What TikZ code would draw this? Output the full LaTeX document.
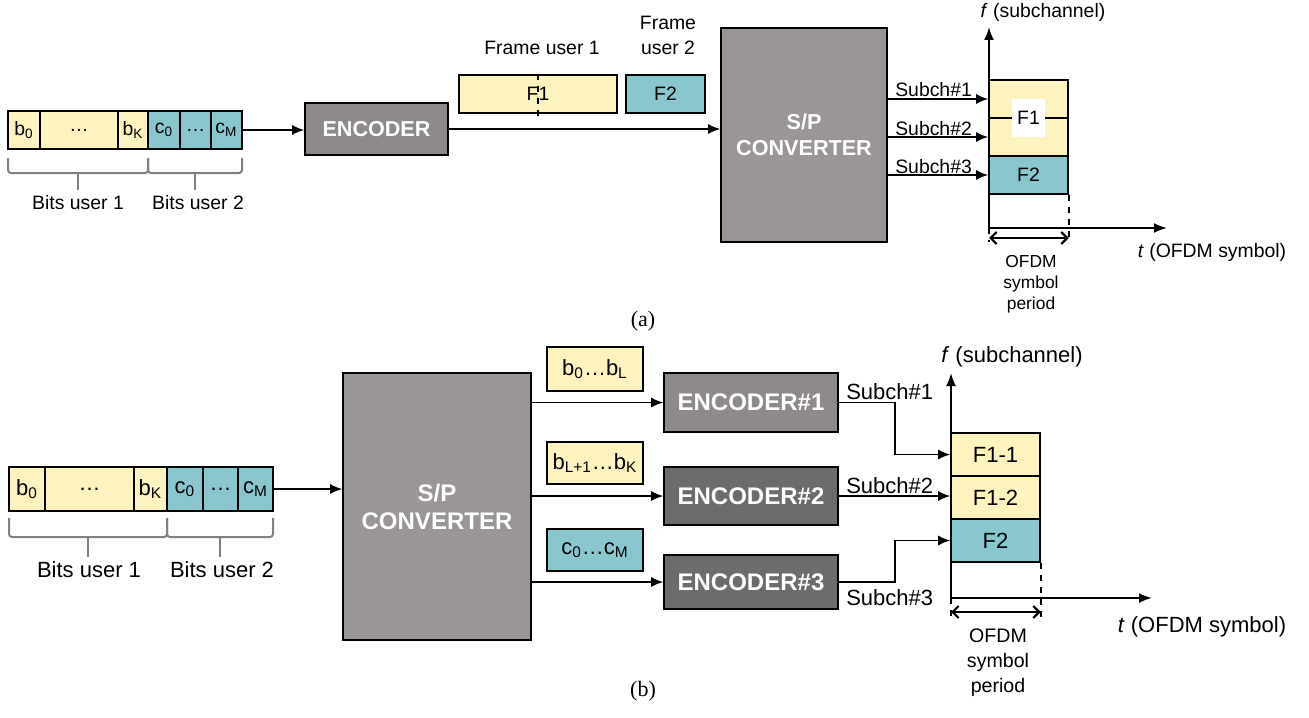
\documentclass[tikz,border=0pt]{standalone}
\usepackage{fontspec}
\setmainfont{Liberation Sans}
\newfontfamily\capfont{Liberation Serif}
\usetikzlibrary{arrows.meta, positioning}
\definecolor{BitYellow}{HTML}{FCF3BE}
\definecolor{BitTeal}{HTML}{89C6CE}
\definecolor{BoxGray}{HTML}{9A9696}
\definecolor{EncGray}{HTML}{8E8A8A}
\definecolor{EncDark}{HTML}{6E6B6B}
\definecolor{BraceGray}{HTML}{808080}

\begin{document}
\begin{tikzpicture}[x=0.5pt, y=-0.5pt,
			every node/.style={align=center},
			txta/.style={font=\fontsize{9.7}{12.5}\selectfont},
			txtb/.style={font=\fontsize{11}{13.5}\selectfont},
			bolda/.style={font=\fontsize{10.8}{13}\selectfont\bfseries},
			boldb/.style={font=\fontsize{12}{14}\selectfont\bfseries},
			ycell/.style={draw, fill=BitYellow, inner sep=0pt, line width=0.8pt},
			tcell/.style={draw, fill=BitTeal, inner sep=0pt, line width=0.8pt},
			blk/.style={draw, fill=BoxGray, text=white, inner sep=0pt, line width=0.8pt},
			conn/.style={line width=0.8pt, -{Latex[length=6pt,width=5pt]}},
			axis/.style={line width=1pt, -{Latex[length=6.5pt,width=5pt]}},
			period/.style={line width=1.1pt, {Straight Barb[length=3pt,width=6pt]}-{Straight Barb[length=3pt,width=6pt]}},
			guide/.style={dashed, line width=0.8pt},
			brace/.style={draw=BraceGray, line width=1pt, rounded corners=1.5pt}
		]
			\useasboundingbox (0,0) rectangle (1309,717);
			% (a) single encoder
			\node at (24,130) [ycell, txta, minimum width=16pt, minimum height=19pt] (ab0) {b\textsubscript{0}};
			\node at (79,130) [ycell, txta, minimum width=39pt, minimum height=19pt] (adots) {\dots};
			\node at (133,130) [ycell, txta, minimum width=15pt, minimum height=19pt] (abk) {b\textsubscript{K}};
			\node at (164,130) [tcell, txta, minimum width=16pt, minimum height=19pt] (ac0) {c\textsubscript{0}};
			\node at (195.5,130) [tcell, txta, minimum width=15.5pt, minimum height=19pt] (acdots) {\dots};
			\node at (226.5,130) [tcell, txta, minimum width=15.5pt, minimum height=19pt] (acm) {c\textsubscript{M}};
			\draw[brace] (8,158) -- (8,173) -- (148,173) -- (148,158);
			\draw[brace] (148,158) -- (148,173) -- (242,173) -- (242,158);
			\draw[brace] (78,173) -- (78,190);
			\draw[brace] (195,173) -- (195,190);
			\node at (78,203) [txta] (bua1) {Bits user 1};
			\node at (198,203) [txta] (bua2) {Bits user 2};
			\node at (376.5,129) [blk, fill=EncGray, bolda, minimum width=71.5pt, minimum height=26pt] (enc) {ENCODER};
			\node at (804,135) [blk, bolda, minimum width=83pt, minimum height=107pt] (spa) {S/P\\CONVERTER};
			\node at (538,94) [ycell, txta, minimum width=79pt, minimum height=19pt] (fr1) {F1};
			\node at (665.5,94) [tcell, txta, minimum width=39.5pt, minimum height=19pt] (fr2) {F2};
			\draw[guide] (fr1.north) -- ([yshift=-2pt]fr1.south);
			\node at (542,48) [txta] (fr1lbl) {Frame user 1};
			\node at (668,35.5) [txta] (fr2lbl) {Frame\\user 2};
			\path[conn] (acm.east) edge (acm.east -| enc.west);
			\path[conn] (enc.east) edge (enc.east -| spa.west);
			% (a) time-frequency grid
			\coordinate (oa) at (989,228);
			\coordinate (oay) at (989,27);
			\coordinate (oax) at (1167,228);
			\node at (1028.5,99) [ycell, minimum width=39.5pt, minimum height=19pt] (ca1) {};
			\node at (1028.5,137) [ycell, minimum width=39.5pt, minimum height=19pt] (ca2) {};
			\node at (1028.5,118) [fill=white, txta, inner sep=0pt, minimum width=16.5pt, minimum height=19pt] (caf1) {F1};
			\node at (1028.5,175) [tcell, txta, minimum width=39.5pt, minimum height=19pt] (ca3) {F2};
			\draw[axis] (oa) -- (oay);
			\draw[axis] (oa) -- (oax);
			\draw[guide] (ca3.south east) -- ++(0,48);
			\draw[guide] (oa) -- ++(0,14);
			\draw[period] ([yshift=-5pt]oa) -- ([yshift=-5pt]oa -| ca3.east);
			\node at (1031,284) [font=\fontsize{8.7}{10.5}\selectfont] (pera) {OFDM\\symbol\\period};
			\node at (1043,12) [txta] (flbla) {\textit{f} (subchannel)};
			\node at (1212,252) [txta] (tlbla) {\textit{t} (OFDM symbol)};
			\draw[conn] (spa.east |- ca1.west) -- (ca1.west) node[pos=0, anchor=base west, yshift=1pt, txta] {Subch\#1};
			\draw[conn] (spa.east |- ca2.west) -- (ca2.west) node[pos=0, anchor=base west, yshift=1pt, txta] {Subch\#2};
			\draw[conn] (spa.east |- ca3.west) -- (ca3.west) node[pos=0, anchor=base west, yshift=1pt, txta] {Subch\#3};
			\node at (643,321) [font=\capfont\fontsize{11}{13}\selectfont] (capa) {(a)};
			% (b) one encoder per subchannel
			\node at (27,489) [ycell, txtb, minimum width=18pt, minimum height=22pt] (bb0) {b\textsubscript{0}};
			\node at (89.5,489) [ycell, txtb, minimum width=44.5pt, minimum height=22pt] (bdots) {\dots};
			\node at (150.5,489) [ycell, txtb, minimum width=16.5pt, minimum height=22pt] (bbk) {b\textsubscript{K}};
			\node at (185,489) [tcell, txtb, minimum width=18pt, minimum height=22pt] (bc0) {c\textsubscript{0}};
			\node at (220.5,489) [tcell, txtb, minimum width=17.5pt, minimum height=22pt] (bcdots) {\dots};
			\node at (255.5,489) [tcell, txtb, minimum width=17.5pt, minimum height=22pt] (bcm) {c\textsubscript{M}};
			\draw[brace] (9,518) -- (9,537) -- (167,537) -- (167,518);
			\draw[brace] (167,518) -- (167,537) -- (273,537) -- (273,518);
			\draw[brace] (88,537) -- (88,557);
			\draw[brace] (220,537) -- (220,557);
			\node at (89,570) [txtb] (bub1) {Bits user 1};
			\node at (222,570) [txtb] (bub2) {Bits user 2};
			\node at (437,506.5) [blk, boldb, minimum width=94pt, minimum height=133.5pt] (spb) {S/P\\CONVERTER};
			\node at (595,369) [ycell, txtb, minimum width=48pt, minimum height=22pt] (lb1) {b\textsubscript{0}\dots b\textsubscript{L}};
			\node at (595,463) [ycell, txtb, minimum width=48pt, minimum height=21pt] (lb2) {b\textsubscript{L+1}\dots b\textsubscript{K}};
			\node at (595,550) [tcell, txtb, minimum width=48pt, minimum height=21pt] (lb3) {c\textsubscript{0}\dots c\textsubscript{M}};
			\node at (751,402.5) [blk, fill=EncGray, boldb, minimum width=87pt, minimum height=29.5pt] (enc1) {ENCODER\#1};
			\node at (751,496) [blk, fill=EncDark, boldb, minimum width=87pt, minimum height=29pt] (enc2) {ENCODER\#2};
			\node at (751,582) [blk, fill=EncDark, boldb, minimum width=87pt, minimum height=27pt] (enc3) {ENCODER\#3};
			\path[conn] (bcm.east) edge (bcm.east -| spb.west);
			\path[conn] (spb.east |- enc1.west) edge (enc1.west);
			\path[conn] (spb.east |- enc2.west) edge (enc2.west);
			\path[conn] (spb.east |- enc3.west) edge (enc3.west);
			% (b) time-frequency grid
			\coordinate (ob) at (951,598);
			\coordinate (oby) at (951,373);
			\coordinate (obx) at (1152,598);
			\node at (995.5,454.5) [ycell, txtb, minimum width=44.5pt, minimum height=21.5pt] (f11) {F1-1};
			\node at (995.5,497.5) [ycell, txtb, minimum width=44.5pt, minimum height=21.5pt] (f12) {F1-2};
			\node at (995.5,540.5) [tcell, txtb, minimum width=44.5pt, minimum height=21.5pt] (f2b) {F2};
			\draw[axis] (ob) -- (oby);
			\draw[axis] (ob) -- (obx);
			\draw[guide] (f2b.south east) -- ++(0,55);
			\draw[guide] (ob) -- ++(0,19);
			\draw[period] ([yshift=-7pt]ob) -- ([yshift=-7pt]ob -| f2b.east);
			\node at (998,663) [font=\fontsize{9.8}{12.5}\selectfont] (perb) {OFDM\\symbol\\period};
			\node at (1012,357) [txtb] (flblb) {\textit{f} (subchannel)};
			\node at (1202,627) [txtb] (tlblb) {\textit{t} (OFDM symbol)};
			\draw[conn] (enc1.east) -- ++(56,0) node[pos=0, anchor=base west, yshift=1.5pt, txtb] {Subch\#1} |- (f11.west);
			\draw[conn] (enc2.east) -- (enc2.east -| f12.west) node[pos=0, anchor=base west, yshift=1.5pt, txtb] {Subch\#2};
			\draw[conn] (enc3.east) -- ++(56,0) node[pos=0, anchor=north west, txtb] {Subch\#3} |- (f2b.west);
			\node at (643,691) [font=\capfont\fontsize{11}{13}\selectfont] (capb) {(b)};
		\end{tikzpicture}
\end{document}
